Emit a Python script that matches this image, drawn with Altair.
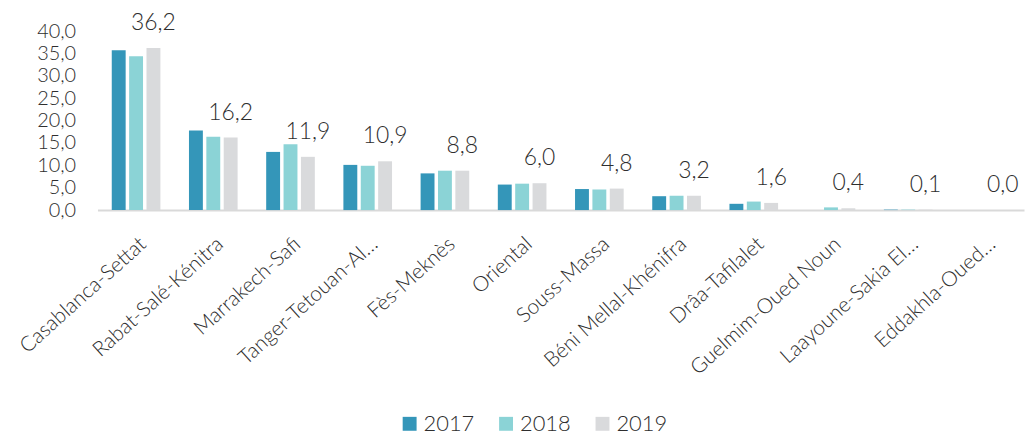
import altair as alt
import pandas as pd

regions = ["Casablanca-Settat", "Rabat-Salé-Kénitra", "Marrakech-Safi", "Tanger-Tetouan-Al…",
           "Fès-Meknès", "Oriental", "Souss-Massa", "Béni Mellal-Khénifra", "Drâa-Tafilalet",
           "Guelmim-Oued Noun", "Laayoune-Sakia El…", "Eddakhla-Oued…"]
v2017 = [35.7, 17.8, 13.0, 10.1, 8.2, 5.7, 4.7, 3.1, 1.4, 0.0, 0.1, 0.0]
v2018 = [34.4, 16.4, 14.7, 9.9, 8.8, 5.9, 4.6, 3.2, 1.9, 0.6, 0.1, 0.0]
v2019 = [36.2, 16.2, 11.9, 10.9, 8.8, 6.0, 4.8, 3.2, 1.6, 0.4, 0.1, 0.0]
years = ["2017", "2018", "2019"]
y_ticks = [0, 5, 10, 15, 20, 25, 30, 35, 40]
colors = ["#3496B9", "#8BD3D6", "#D9DADC"]

rows = []
for i, r in enumerate(regions):
    for y, vals in zip(years, [v2017, v2018, v2019]):
        rows.append({"region": r, "year": y, "value": vals[i]})
df = pd.DataFrame(rows)

FONT = "Lato"
TXT = "#2e2e2e"

x = alt.X("region:N", sort=regions, title=None,
          scale=alt.Scale(paddingInner=0.37, paddingOuter=0.185),
          axis=alt.Axis(labelAngle=-42, labelFontSize=21, labelColor=TXT, labelFont=FONT,
                        labelFontWeight=300,
                        ticks=False, domainColor="#D9D9D9", domainWidth=2,
                        labelPadding=23, labelLimit=400, labelOverlap=False))
xo = alt.XOffset("year:N", sort=years, scale=alt.Scale(paddingInner=0.2, paddingOuter=0))
y = alt.Y("value:Q", title=None,
          scale=alt.Scale(domain=[0, 40], nice=False),
          axis=alt.Axis(values=y_ticks, tickCount=9,
                        labelExpr="replace(format(datum.value, '.1f'), '.', ',')",
                        labelFontSize=20, labelColor=TXT, labelFont=FONT,
                        labelFontWeight=300, labelOverlap=False,
                        ticks=False, domain=False, grid=False, labelPadding=22))

bars = alt.Chart(df).mark_bar().encode(
    x=x, xOffset=xo, y=y,
    color=alt.Color("year:N", sort=years,
                    scale=alt.Scale(domain=years, range=colors),
                    legend=alt.Legend(title=None, orient="none", direction="horizontal",
                                      legendX=303, legendY=384,
                                      symbolType="square", symbolSize=196,
                                      symbolStrokeWidth=0, labelFontSize=22,
                                      labelFont=FONT, labelColor=TXT, labelFontWeight=300,
                                      columnPadding=20, labelOffset=3)),
)

labels = alt.Chart(df).transform_filter(alt.datum.year == "2019").transform_calculate(
    lab="replace(format(datum.value, '.1f'), '.', ',')"
).mark_text(baseline="middle", dy=-25, fontSize=23, font=FONT, fontWeight=300,
            color=TXT).encode(
    x=x, xOffset=xo, y=y,
    text="lab:N",
)

chart = alt.layer(bars, labels).properties(
    width=932, height=180,
    autosize=alt.AutoSizeParams(type="none"),
    padding={"left": 90, "top": 22, "right": 3, "bottom": 225},
).configure_view(stroke=None)

chart.save("out.html", embed_options={"renderer": "svg", "actions": False})
